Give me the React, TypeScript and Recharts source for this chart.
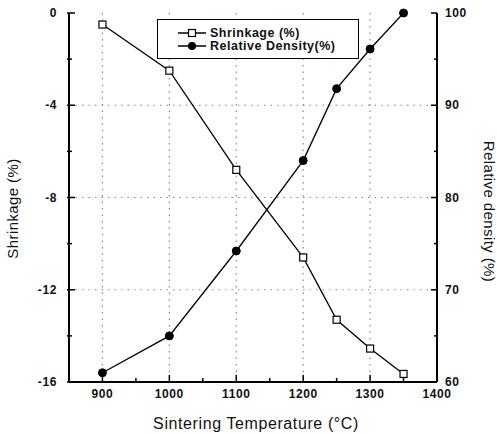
import React from 'react';
import { ComposedChart, Line, XAxis, YAxis, CartesianGrid } from 'recharts';

const temperatures = [900, 1000, 1100, 1200, 1250, 1300, 1350];
const shrinkage = [-0.5, -2.5, -6.8, -10.6, -13.3, -14.55, -15.65];
const relativeDensity = [61, 65, 74.2, 84, 91.8, 96.1, 100];

const xTicks = [900, 950, 1000, 1050, 1100, 1150, 1200, 1250, 1300, 1350, 1400];
const xLabels = [900, 1000, 1100, 1200, 1300, 1400];
const shrinkTicks = [0, -2, -4, -6, -8, -10, -12, -14, -16];
const shrinkLabels = [0, -4, -8, -12, -16];
const densityTicks = [60, 65, 70, 75, 80, 85, 90, 95, 100];
const densityLabels = [60, 70, 80, 90, 100];

const data = temperatures.map((t, i) => ({
  temp: t,
  shrinkage: shrinkage[i],
  density: relativeDensity[i],
}));

const FONT = 'Arial, "Liberation Sans", Helvetica, sans-serif';
const tickText = { fontFamily: FONT, fontSize: 12, fontWeight: 700, fill: '#111', letterSpacing: 0.6 };

const BottomTick = ({ x, y, payload }: any) => {
  const major = xLabels.includes(payload.value);
  return (
    <g>
      <line x1={x} x2={x} y1={y} y2={y - (major ? 7 : 4)} stroke="#000" strokeWidth={1.5} />
      {major && (
        <text x={x} y={y + 16} textAnchor="middle" {...tickText}>
          {payload.value}
        </text>
      )}
    </g>
  );
};

const TopTick = ({ x, y, payload }: any) => {
  const major = xLabels.includes(payload.value);
  return <line x1={x} x2={x} y1={y} y2={y + (major ? 7 : 4)} stroke="#000" strokeWidth={1.5} />;
};

const LeftTick = ({ x, y, payload }: any) => {
  const major = shrinkLabels.includes(payload.value);
  return (
    <g>
      <line x1={x - 2} x2={x + (major ? 6 : 3)} y1={y} y2={y} stroke="#000" strokeWidth={1.5} />
      {major && (
        <text x={x - 12} y={y + 4} textAnchor="end" {...tickText}>
          {payload.value}
        </text>
      )}
    </g>
  );
};

const RightTick = ({ x, y, payload }: any) => {
  const major = densityLabels.includes(payload.value);
  return (
    <g>
      <line x1={x} x2={x - (major ? 6 : 3)} y1={y} y2={y} stroke="#000" strokeWidth={1.5} />
      {major && (
        <text x={x + 8} y={y + 4} textAnchor="start" {...tickText}>
          {payload.value}
        </text>
      )}
    </g>
  );
};

const SquareDot = (props: any) => {
  const { cx, cy, index } = props;
  return <rect key={`sq-${index}`} x={cx - 3.5} y={cy - 3.5} width={7} height={7} fill="#fff" stroke="#000" strokeWidth={1.2} />;
};

const CircleDot = (props: any) => {
  const { cx, cy, index } = props;
  return <circle key={`ci-${index}`} cx={cx} cy={cy} r={4} fill="#000" stroke="#000" />;
};

const titleStyle = { fontFamily: FONT, fontSize: 15, fill: '#111', letterSpacing: 0.4 };

const Legend = () => (
  <div
    style={{
      position: 'absolute',
      left: 157,
      top: 19,
      width: 202,
      height: 40,
      border: '1.5px solid #000',
      background: '#fff',
      fontFamily: FONT,
      fontSize: 12.5,
      fontWeight: 700,
      color: '#111',
      boxSizing: 'border-box',
    }}
  >
    <div style={{ position: 'absolute', left: 19, top: 5, display: 'flex', alignItems: 'center', height: 16 }}>
      <svg width={30} height={10}>
        <line x1={1} x2={29} y1={5} y2={5} stroke="#000" strokeWidth={1.5} />
        <rect x={11.5} y={1.5} width={7} height={7} fill="#fff" stroke="#000" strokeWidth={1.2} />
      </svg>
      <span style={{ marginLeft: 3, letterSpacing: 0.5 }}>Shrinkage (%)</span>
    </div>
    <div style={{ position: 'absolute', left: 19, top: 18, display: 'flex', alignItems: 'center', height: 16 }}>
      <svg width={30} height={10}>
        <line x1={1} x2={29} y1={5} y2={5} stroke="#000" strokeWidth={1.5} />
        <circle cx={15} cy={5} r={4} fill="#000" />
      </svg>
      <span style={{ marginLeft: 3, letterSpacing: 0.5 }}>Relative Density(%)</span>
    </div>
  </div>
);

export default function App() {
  return (
    <div style={{ position: 'absolute', left: 0, top: 0, width: 497, height: 434, background: '#fff' }}>
      <ComposedChart width={497} height={434} data={data} margin={{ top: 13, right: 0, bottom: 0, left: 0 }}>
        <CartesianGrid
          xAxisId="bottom"
          yAxisId="left"
          horizontalValues={[-4, -8, -12]}
          verticalValues={[900, 1000, 1100, 1200, 1300]}
          stroke="#888"
          strokeWidth={1.2}
          strokeDasharray="1.5 5"
        />
        <XAxis
          xAxisId="bottom"
          dataKey="temp"
          type="number"
          domain={[850, 1400]}
          ticks={xTicks}
          interval={0}
          height={52}
          tickSize={0}
          tickMargin={0}
          tickLine={false}
          tick={<BottomTick />}
          axisLine={{ stroke: '#000', strokeWidth: 2 }}
          label={{
            content: ({ viewBox }: any) => (
              <text
                x={viewBox.x + viewBox.width / 2 + 3}
                y={viewBox.y + 47}
                textAnchor="middle"
                {...titleStyle}
                fontSize={16}
                letterSpacing={0.6}
              >
                Sintering Temperature (°C)
              </text>
            ),
          }}
        />
        <XAxis
          xAxisId="top"
          orientation="top"
          dataKey="temp"
          type="number"
          domain={[850, 1400]}
          ticks={xTicks}
          interval={0}
          height={0}
          tickSize={0}
          tickMargin={0}
          tickLine={false}
          tick={<TopTick />}
          axisLine={{ stroke: '#000', strokeWidth: 2 }}
        />
        <YAxis
          yAxisId="left"
          domain={[-16, 0]}
          ticks={shrinkTicks}
          interval={0}
          width={69}
          tickSize={0}
          tickMargin={0}
          tickLine={false}
          tick={<LeftTick />}
          axisLine={{ stroke: '#000', strokeWidth: 2 }}
          label={{
            content: ({ viewBox }: any) => {
              const cx = viewBox.x + 18;
              const cy = viewBox.y + viewBox.height / 2 + 11;
              return (
                <text transform={`translate(${cx},${cy}) rotate(-90)`} textAnchor="middle" {...titleStyle}>
                  Shrinkage (%)
                </text>
              );
            },
          }}
        />
        <YAxis
          yAxisId="right"
          orientation="right"
          domain={[60, 100]}
          ticks={densityTicks}
          interval={0}
          width={60}
          tickSize={0}
          tickMargin={0}
          tickLine={false}
          tick={<RightTick />}
          axisLine={{ stroke: '#000', strokeWidth: 2 }}
          label={{
            content: ({ viewBox }: any) => {
              const cx = viewBox.x + 47;
              const cy = viewBox.y + viewBox.height / 2 + 14;
              return (
                <text transform={`translate(${cx},${cy}) rotate(90)`} textAnchor="middle" {...titleStyle}>
                  Relative density (%)
                </text>
              );
            },
          }}
        />
        <Line
          xAxisId="bottom"
          yAxisId="left"
          type="linear"
          dataKey="shrinkage"
          stroke="#000"
          strokeWidth={1.3}
          dot={SquareDot}
          activeDot={false}
          isAnimationActive={false}
        />
        <Line
          xAxisId="bottom"
          yAxisId="right"
          type="linear"
          dataKey="density"
          stroke="#000"
          strokeWidth={1.3}
          dot={CircleDot}
          activeDot={false}
          isAnimationActive={false}
        />
      </ComposedChart>
      <Legend />
    </div>
  );
}
